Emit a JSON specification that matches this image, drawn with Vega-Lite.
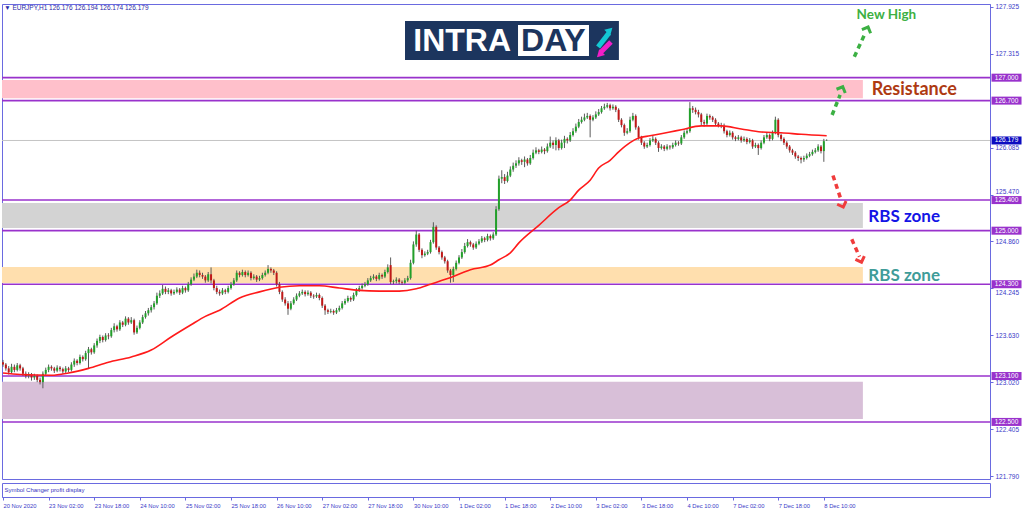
{
"$schema": "https://vega.github.io/schema/vega-lite/v6.json",
"background": "white",
"padding": {"left": -1, "top": 3, "right": 0, "bottom": 0},
"spacing": 1,
"config": {"view": {"stroke": "#6a6ae0", "strokeWidth": 1}, "font": "Liberation Sans", "scale": {"continuousPadding": 0}},
"datasets": {
"candles": [
{"i":0,"o":123.28,"h":123.31,"l":123.22,"c":123.25},{"i":1,"o":123.25,"h":123.27,"l":123.17,"c":123.2},{"i":2,"o":123.2,"h":123.23,"l":123.12,"c":123.15},{"i":3,"o":123.15,"h":123.26,"l":123.13,"c":123.22},{"i":4,"o":123.22,"h":123.25,"l":123.15,"c":123.18},{"i":5,"o":123.18,"h":123.27,"l":123.16,"c":123.24},{"i":6,"o":123.24,"h":123.26,"l":123.17,"c":123.2},{"i":7,"o":123.2,"h":123.22,"l":123.1,"c":123.13},{"i":8,"o":123.13,"h":123.16,"l":123.07,"c":123.1},{"i":9,"o":123.1,"h":123.15,"l":123.07,"c":123.12},
{"i":10,"o":123.12,"h":123.14,"l":123.04,"c":123.08},{"i":11,"o":123.08,"h":123.13,"l":123.05,"c":123.1},{"i":12,"o":123.1,"h":123.12,"l":123.02,"c":123.05},{"i":13,"o":123.05,"h":123.08,"l":122.99,"c":123.02},{"i":14,"o":123.02,"h":123.16,"l":122.94,"c":123.13},{"i":15,"o":123.13,"h":123.21,"l":123.11,"c":123.18},{"i":16,"o":123.18,"h":123.25,"l":123.15,"c":123.22},{"i":17,"o":123.22,"h":123.24,"l":123.17,"c":123.2},{"i":18,"o":123.2,"h":123.22,"l":123.14,"c":123.17},{"i":19,"o":123.17,"h":123.24,"l":123.15,"c":123.21},
{"i":20,"o":123.21,"h":123.23,"l":123.16,"c":123.19},{"i":21,"o":123.19,"h":123.21,"l":123.13,"c":123.16},{"i":22,"o":123.16,"h":123.23,"l":123.14,"c":123.2},{"i":23,"o":123.2,"h":123.22,"l":123.15,"c":123.18},{"i":24,"o":123.18,"h":123.28,"l":123.16,"c":123.25},{"i":25,"o":123.25,"h":123.33,"l":123.22,"c":123.3},{"i":26,"o":123.3,"h":123.32,"l":123.24,"c":123.27},{"i":27,"o":123.27,"h":123.38,"l":123.25,"c":123.35},{"i":28,"o":123.35,"h":123.37,"l":123.29,"c":123.32},{"i":29,"o":123.32,"h":123.43,"l":123.3,"c":123.4},
{"i":30,"o":123.4,"h":123.48,"l":123.2,"c":123.45},{"i":31,"o":123.45,"h":123.47,"l":123.38,"c":123.41},{"i":32,"o":123.41,"h":123.53,"l":123.39,"c":123.5},{"i":33,"o":123.5,"h":123.59,"l":123.47,"c":123.56},{"i":34,"o":123.56,"h":123.64,"l":123.53,"c":123.61},{"i":35,"o":123.61,"h":123.63,"l":123.54,"c":123.57},{"i":36,"o":123.57,"h":123.66,"l":123.55,"c":123.63},{"i":37,"o":123.63,"h":123.66,"l":123.58,"c":123.62},{"i":38,"o":123.62,"h":123.73,"l":123.6,"c":123.7},{"i":39,"o":123.7,"h":123.79,"l":123.67,"c":123.75},
{"i":40,"o":123.75,"h":123.77,"l":123.68,"c":123.71},{"i":41,"o":123.71,"h":123.83,"l":123.69,"c":123.8},{"i":42,"o":123.8,"h":123.82,"l":123.74,"c":123.77},{"i":43,"o":123.77,"h":123.88,"l":123.75,"c":123.85},{"i":44,"o":123.85,"h":123.87,"l":123.77,"c":123.8},{"i":45,"o":123.8,"h":123.87,"l":123.78,"c":123.83},{"i":46,"o":123.83,"h":123.85,"l":123.64,"c":123.67},{"i":47,"o":123.67,"h":123.76,"l":123.65,"c":123.73},{"i":48,"o":123.73,"h":123.83,"l":123.71,"c":123.8},{"i":49,"o":123.8,"h":123.9,"l":123.78,"c":123.87},
{"i":50,"o":123.87,"h":123.95,"l":123.85,"c":123.92},{"i":51,"o":123.92,"h":123.99,"l":123.89,"c":123.96},{"i":52,"o":123.96,"h":124.03,"l":123.93,"c":124.0},{"i":53,"o":124.0,"h":124.08,"l":123.97,"c":124.05},{"i":54,"o":124.05,"h":124.19,"l":124.03,"c":124.15},{"i":55,"o":124.15,"h":124.22,"l":124.12,"c":124.18},{"i":56,"o":124.18,"h":124.29,"l":124.16,"c":124.24},{"i":57,"o":124.24,"h":124.27,"l":124.17,"c":124.2},{"i":58,"o":124.2,"h":124.25,"l":124.17,"c":124.22},{"i":59,"o":124.22,"h":124.24,"l":124.15,"c":124.18},
{"i":60,"o":124.18,"h":124.23,"l":124.16,"c":124.2},{"i":61,"o":124.2,"h":124.26,"l":124.18,"c":124.23},{"i":62,"o":124.23,"h":124.25,"l":124.16,"c":124.19},{"i":63,"o":124.19,"h":124.28,"l":124.17,"c":124.25},{"i":64,"o":124.25,"h":124.27,"l":124.19,"c":124.22},{"i":65,"o":124.22,"h":124.33,"l":124.2,"c":124.3},{"i":66,"o":124.3,"h":124.39,"l":124.28,"c":124.36},{"i":67,"o":124.36,"h":124.44,"l":124.34,"c":124.4},{"i":68,"o":124.4,"h":124.49,"l":124.38,"c":124.45},{"i":69,"o":124.45,"h":124.48,"l":124.39,"c":124.42},
{"i":70,"o":124.42,"h":124.45,"l":124.37,"c":124.4},{"i":71,"o":124.4,"h":124.42,"l":124.32,"c":124.35},{"i":72,"o":124.35,"h":124.46,"l":124.33,"c":124.43},{"i":73,"o":124.43,"h":124.52,"l":124.31,"c":124.35},{"i":74,"o":124.35,"h":124.37,"l":124.22,"c":124.25},{"i":75,"o":124.25,"h":124.28,"l":124.17,"c":124.2},{"i":76,"o":124.2,"h":124.23,"l":124.15,"c":124.18},{"i":77,"o":124.18,"h":124.25,"l":124.16,"c":124.22},{"i":78,"o":124.22,"h":124.24,"l":124.17,"c":124.2},{"i":79,"o":124.2,"h":124.28,"l":124.18,"c":124.25},
{"i":80,"o":124.25,"h":124.33,"l":124.23,"c":124.3},{"i":81,"o":124.3,"h":124.38,"l":124.28,"c":124.35},{"i":82,"o":124.35,"h":124.48,"l":124.33,"c":124.45},{"i":83,"o":124.45,"h":124.47,"l":124.39,"c":124.42},{"i":84,"o":124.42,"h":124.49,"l":124.4,"c":124.46},{"i":85,"o":124.46,"h":124.48,"l":124.39,"c":124.42},{"i":86,"o":124.42,"h":124.48,"l":124.4,"c":124.45},{"i":87,"o":124.45,"h":124.47,"l":124.35,"c":124.38},{"i":88,"o":124.38,"h":124.43,"l":124.36,"c":124.4},{"i":89,"o":124.4,"h":124.42,"l":124.33,"c":124.36},
{"i":90,"o":124.36,"h":124.41,"l":124.34,"c":124.38},{"i":91,"o":124.38,"h":124.45,"l":124.36,"c":124.42},{"i":92,"o":124.42,"h":124.48,"l":124.4,"c":124.45},{"i":93,"o":124.45,"h":124.55,"l":124.43,"c":124.5},{"i":94,"o":124.5,"h":124.52,"l":124.45,"c":124.48},{"i":95,"o":124.48,"h":124.5,"l":124.42,"c":124.45},{"i":96,"o":124.45,"h":124.47,"l":124.27,"c":124.3},{"i":97,"o":124.3,"h":124.33,"l":124.17,"c":124.2},{"i":98,"o":124.2,"h":124.22,"l":124.07,"c":124.1},{"i":99,"o":124.1,"h":124.13,"l":124.02,"c":124.05},
{"i":100,"o":124.05,"h":124.08,"l":123.9,"c":123.98},{"i":101,"o":123.98,"h":124.08,"l":123.96,"c":124.05},{"i":102,"o":124.05,"h":124.13,"l":124.03,"c":124.1},{"i":103,"o":124.1,"h":124.18,"l":124.08,"c":124.15},{"i":104,"o":124.15,"h":124.21,"l":124.13,"c":124.18},{"i":105,"o":124.18,"h":124.23,"l":124.16,"c":124.2},{"i":106,"o":124.2,"h":124.22,"l":124.14,"c":124.17},{"i":107,"o":124.17,"h":124.22,"l":124.15,"c":124.19},{"i":108,"o":124.19,"h":124.21,"l":124.12,"c":124.15},{"i":109,"o":124.15,"h":124.17,"l":124.11,"c":124.14},
{"i":110,"o":124.14,"h":124.19,"l":124.12,"c":124.16},{"i":111,"o":124.16,"h":124.18,"l":124.09,"c":124.12},{"i":112,"o":124.12,"h":124.14,"l":123.99,"c":124.02},{"i":113,"o":124.02,"h":124.04,"l":123.9,"c":123.96},{"i":114,"o":123.96,"h":123.98,"l":123.91,"c":123.94},{"i":115,"o":123.94,"h":123.98,"l":123.92,"c":123.95},{"i":116,"o":123.95,"h":123.97,"l":123.9,"c":123.93},{"i":117,"o":123.93,"h":123.99,"l":123.91,"c":123.96},{"i":118,"o":123.96,"h":124.02,"l":123.94,"c":123.99},{"i":119,"o":123.99,"h":124.08,"l":123.97,"c":124.05},
{"i":120,"o":124.05,"h":124.11,"l":124.03,"c":124.08},{"i":121,"o":124.08,"h":124.15,"l":124.06,"c":124.12},{"i":122,"o":124.12,"h":124.14,"l":124.07,"c":124.1},{"i":123,"o":124.1,"h":124.19,"l":124.08,"c":124.16},{"i":124,"o":124.16,"h":124.25,"l":124.14,"c":124.22},{"i":125,"o":124.22,"h":124.28,"l":124.2,"c":124.25},{"i":126,"o":124.25,"h":124.31,"l":124.23,"c":124.28},{"i":127,"o":124.28,"h":124.33,"l":124.26,"c":124.3},{"i":128,"o":124.3,"h":124.38,"l":124.28,"c":124.35},{"i":129,"o":124.35,"h":124.41,"l":124.33,"c":124.38},
{"i":130,"o":124.38,"h":124.43,"l":124.36,"c":124.4},{"i":131,"o":124.4,"h":124.42,"l":124.34,"c":124.37},{"i":132,"o":124.37,"h":124.45,"l":124.35,"c":124.42},{"i":133,"o":124.42,"h":124.44,"l":124.37,"c":124.4},{"i":134,"o":124.4,"h":124.49,"l":124.38,"c":124.46},{"i":135,"o":124.46,"h":124.56,"l":124.44,"c":124.52},{"i":136,"o":124.55,"h":124.65,"l":124.3,"c":124.33},{"i":137,"o":124.33,"h":124.36,"l":124.3,"c":124.34},{"i":138,"o":124.34,"h":124.39,"l":124.31,"c":124.36},{"i":139,"o":124.36,"h":124.38,"l":124.3,"c":124.33},
{"i":140,"o":124.33,"h":124.35,"l":124.29,"c":124.32},{"i":141,"o":124.32,"h":124.38,"l":124.3,"c":124.35},{"i":142,"o":124.35,"h":124.41,"l":124.33,"c":124.38},{"i":143,"o":124.38,"h":124.62,"l":124.36,"c":124.58},{"i":144,"o":124.58,"h":124.86,"l":124.56,"c":124.82},{"i":145,"o":124.82,"h":125.0,"l":124.79,"c":124.95},{"i":146,"o":124.95,"h":124.97,"l":124.72,"c":124.75},{"i":147,"o":124.75,"h":124.77,"l":124.64,"c":124.68},{"i":148,"o":124.68,"h":124.73,"l":124.66,"c":124.7},{"i":149,"o":124.7,"h":124.75,"l":124.68,"c":124.72},
{"i":150,"o":124.72,"h":124.88,"l":124.7,"c":124.85},{"i":151,"o":124.85,"h":125.11,"l":124.83,"c":125.05},{"i":152,"o":125.05,"h":125.07,"l":124.75,"c":124.78},{"i":153,"o":124.78,"h":124.8,"l":124.69,"c":124.72},{"i":154,"o":124.72,"h":124.74,"l":124.62,"c":124.65},{"i":155,"o":124.65,"h":124.67,"l":124.57,"c":124.6},{"i":156,"o":124.6,"h":124.62,"l":124.45,"c":124.48},{"i":157,"o":124.48,"h":124.5,"l":124.32,"c":124.42},{"i":158,"o":124.42,"h":124.53,"l":124.33,"c":124.5},{"i":159,"o":124.5,"h":124.61,"l":124.48,"c":124.58},
{"i":160,"o":124.58,"h":124.68,"l":124.56,"c":124.65},{"i":161,"o":124.65,"h":124.76,"l":124.63,"c":124.72},{"i":162,"o":124.72,"h":124.84,"l":124.7,"c":124.8},{"i":163,"o":124.8,"h":124.89,"l":124.78,"c":124.85},{"i":164,"o":124.85,"h":124.87,"l":124.79,"c":124.82},{"i":165,"o":124.82,"h":124.84,"l":124.75,"c":124.78},{"i":166,"o":124.78,"h":124.86,"l":124.76,"c":124.83},{"i":167,"o":124.83,"h":124.89,"l":124.81,"c":124.86},{"i":168,"o":124.86,"h":124.93,"l":124.84,"c":124.9},{"i":169,"o":124.9,"h":124.92,"l":124.85,"c":124.88},
{"i":170,"o":124.88,"h":124.96,"l":124.86,"c":124.93},{"i":171,"o":124.93,"h":124.95,"l":124.87,"c":124.9},{"i":172,"o":124.9,"h":124.98,"l":124.88,"c":124.95},{"i":173,"o":124.95,"h":125.32,"l":124.93,"c":125.28},{"i":174,"o":125.28,"h":125.72,"l":125.26,"c":125.68},{"i":175,"o":125.68,"h":125.79,"l":125.62,"c":125.7},{"i":176,"o":125.7,"h":125.74,"l":125.61,"c":125.65},{"i":177,"o":125.65,"h":125.77,"l":125.63,"c":125.72},{"i":178,"o":125.72,"h":125.84,"l":125.7,"c":125.8},{"i":179,"o":125.8,"h":125.89,"l":125.77,"c":125.85},
{"i":180,"o":125.85,"h":125.92,"l":125.82,"c":125.88},{"i":181,"o":125.88,"h":125.96,"l":125.85,"c":125.92},{"i":182,"o":125.92,"h":125.94,"l":125.86,"c":125.9},{"i":183,"o":125.9,"h":125.97,"l":125.83,"c":125.93},{"i":184,"o":125.93,"h":125.95,"l":125.85,"c":125.88},{"i":185,"o":125.88,"h":125.99,"l":125.86,"c":125.95},{"i":186,"o":125.95,"h":126.06,"l":125.93,"c":126.02},{"i":187,"o":126.02,"h":126.09,"l":126.0,"c":126.05},{"i":188,"o":126.05,"h":126.07,"l":126.0,"c":126.03},{"i":189,"o":126.03,"h":126.1,"l":126.01,"c":126.06},
{"i":190,"o":126.06,"h":126.08,"l":126.0,"c":126.04},{"i":191,"o":126.04,"h":126.14,"l":126.02,"c":126.1},{"i":192,"o":126.1,"h":126.23,"l":126.08,"c":126.15},{"i":193,"o":126.15,"h":126.18,"l":126.07,"c":126.12},{"i":194,"o":126.12,"h":126.22,"l":126.05,"c":126.18},{"i":195,"o":126.18,"h":126.2,"l":126.05,"c":126.08},{"i":196,"o":126.08,"h":126.19,"l":126.06,"c":126.15},{"i":197,"o":126.15,"h":126.24,"l":126.08,"c":126.2},{"i":198,"o":126.2,"h":126.22,"l":126.14,"c":126.18},{"i":199,"o":126.18,"h":126.29,"l":126.16,"c":126.25},
{"i":200,"o":126.25,"h":126.34,"l":126.23,"c":126.3},{"i":201,"o":126.3,"h":126.4,"l":126.28,"c":126.36},{"i":202,"o":126.36,"h":126.46,"l":126.34,"c":126.42},{"i":203,"o":126.42,"h":126.49,"l":126.4,"c":126.45},{"i":204,"o":126.45,"h":126.53,"l":126.43,"c":126.48},{"i":205,"o":126.48,"h":126.54,"l":126.46,"c":126.5},{"i":206,"o":126.5,"h":126.52,"l":126.22,"c":126.45},{"i":207,"o":126.45,"h":126.51,"l":126.43,"c":126.48},{"i":208,"o":126.48,"h":126.56,"l":126.46,"c":126.52},{"i":209,"o":126.52,"h":126.59,"l":126.5,"c":126.55},
{"i":210,"o":126.55,"h":126.63,"l":126.53,"c":126.6},{"i":211,"o":126.6,"h":126.66,"l":126.58,"c":126.62},{"i":212,"o":126.62,"h":126.67,"l":126.6,"c":126.64},{"i":213,"o":126.64,"h":126.66,"l":126.57,"c":126.6},{"i":214,"o":126.6,"h":126.65,"l":126.58,"c":126.62},{"i":215,"o":126.62,"h":126.64,"l":126.55,"c":126.58},{"i":216,"o":126.58,"h":126.6,"l":126.42,"c":126.45},{"i":217,"o":126.45,"h":126.47,"l":126.35,"c":126.38},{"i":218,"o":126.38,"h":126.4,"l":126.24,"c":126.28},{"i":219,"o":126.28,"h":126.34,"l":126.26,"c":126.3},
{"i":220,"o":126.3,"h":126.49,"l":126.28,"c":126.45},{"i":221,"o":126.45,"h":126.54,"l":126.43,"c":126.5},{"i":222,"o":126.5,"h":126.52,"l":126.32,"c":126.35},{"i":223,"o":126.35,"h":126.37,"l":126.19,"c":126.22},{"i":224,"o":126.22,"h":126.24,"l":126.12,"c":126.15},{"i":225,"o":126.15,"h":126.17,"l":126.07,"c":126.1},{"i":226,"o":126.1,"h":126.15,"l":126.08,"c":126.12},{"i":227,"o":126.12,"h":126.21,"l":126.1,"c":126.18},{"i":228,"o":126.18,"h":126.24,"l":126.16,"c":126.2},{"i":229,"o":126.2,"h":126.22,"l":126.12,"c":126.15},
{"i":230,"o":126.15,"h":126.17,"l":126.03,"c":126.08},{"i":231,"o":126.08,"h":126.13,"l":126.06,"c":126.1},{"i":232,"o":126.1,"h":126.12,"l":126.04,"c":126.07},{"i":233,"o":126.07,"h":126.13,"l":126.05,"c":126.1},{"i":234,"o":126.1,"h":126.12,"l":126.06,"c":126.09},{"i":235,"o":126.09,"h":126.15,"l":126.07,"c":126.12},{"i":236,"o":126.12,"h":126.18,"l":126.1,"c":126.15},{"i":237,"o":126.15,"h":126.17,"l":126.11,"c":126.14},{"i":238,"o":126.14,"h":126.25,"l":126.12,"c":126.22},{"i":239,"o":126.22,"h":126.31,"l":126.2,"c":126.28},
{"i":240,"o":126.28,"h":126.34,"l":126.26,"c":126.3},{"i":241,"o":126.3,"h":126.68,"l":126.28,"c":126.6},{"i":242,"o":126.6,"h":126.63,"l":126.54,"c":126.58},{"i":243,"o":126.58,"h":126.61,"l":126.52,"c":126.55},{"i":244,"o":126.55,"h":126.58,"l":126.48,"c":126.52},{"i":245,"o":126.52,"h":126.54,"l":126.38,"c":126.42},{"i":246,"o":126.42,"h":126.45,"l":126.36,"c":126.4},{"i":247,"o":126.4,"h":126.53,"l":126.38,"c":126.5},{"i":248,"o":126.5,"h":126.52,"l":126.45,"c":126.48},{"i":249,"o":126.48,"h":126.5,"l":126.42,"c":126.45},
{"i":250,"o":126.45,"h":126.47,"l":126.37,"c":126.4},{"i":251,"o":126.4,"h":126.42,"l":126.35,"c":126.38},{"i":252,"o":126.38,"h":126.41,"l":126.34,"c":126.37},{"i":253,"o":126.37,"h":126.4,"l":126.27,"c":126.3},{"i":254,"o":126.3,"h":126.32,"l":126.22,"c":126.25},{"i":255,"o":126.25,"h":126.31,"l":126.23,"c":126.28},{"i":256,"o":126.28,"h":126.3,"l":126.19,"c":126.22},{"i":257,"o":126.22,"h":126.24,"l":126.17,"c":126.2},{"i":258,"o":126.2,"h":126.25,"l":126.18,"c":126.22},{"i":259,"o":126.22,"h":126.24,"l":126.15,"c":126.18},
{"i":260,"o":126.18,"h":126.23,"l":126.16,"c":126.2},{"i":261,"o":126.2,"h":126.22,"l":126.13,"c":126.16},{"i":262,"o":126.16,"h":126.21,"l":126.14,"c":126.18},{"i":263,"o":126.18,"h":126.2,"l":126.07,"c":126.1},{"i":264,"o":126.1,"h":126.15,"l":126.08,"c":126.12},{"i":265,"o":126.12,"h":126.14,"l":125.99,"c":126.08},{"i":266,"o":126.08,"h":126.18,"l":126.06,"c":126.15},{"i":267,"o":126.15,"h":126.25,"l":126.13,"c":126.22},{"i":268,"o":126.22,"h":126.28,"l":126.2,"c":126.25},{"i":269,"o":126.25,"h":126.27,"l":126.17,"c":126.2},
{"i":270,"o":126.2,"h":126.31,"l":126.18,"c":126.28},{"i":271,"o":126.28,"h":126.49,"l":126.26,"c":126.45},{"i":272,"o":126.45,"h":126.47,"l":126.22,"c":126.25},{"i":273,"o":126.25,"h":126.27,"l":126.17,"c":126.2},{"i":274,"o":126.2,"h":126.22,"l":126.12,"c":126.15},{"i":275,"o":126.15,"h":126.17,"l":126.07,"c":126.1},{"i":276,"o":126.1,"h":126.12,"l":126.02,"c":126.05},{"i":277,"o":126.05,"h":126.07,"l":125.99,"c":126.02},{"i":278,"o":126.02,"h":126.04,"l":125.94,"c":125.97},{"i":279,"o":125.97,"h":125.99,"l":125.91,"c":125.95},
{"i":280,"o":125.95,"h":125.97,"l":125.88,"c":125.93},{"i":281,"o":125.93,"h":125.98,"l":125.9,"c":125.95},{"i":282,"o":125.95,"h":126.01,"l":125.93,"c":125.98},{"i":283,"o":125.98,"h":126.03,"l":125.96,"c":126.0},{"i":284,"o":126.0,"h":126.06,"l":125.98,"c":126.03},{"i":285,"o":126.03,"h":126.08,"l":126.01,"c":126.05},{"i":286,"o":126.05,"h":126.13,"l":126.03,"c":126.1},{"i":287,"o":126.1,"h":126.12,"l":126.01,"c":126.04},{"i":288,"o":126.04,"h":126.2,"l":125.9,"c":126.17},{"i":289,"o":126.176,"h":126.194,"l":126.174,"c":126.179}
],
"ma": [
{"i":0,"v":123.14},{"i":6,"v":123.12},{"i":17,"v":123.11},{"i":23,"v":123.14},{"i":30,"v":123.2},{"i":37,"v":123.28},{"i":45,"v":123.35},{"i":52,"v":123.44},{"i":59,"v":123.61},{"i":66,"v":123.77},{"i":71,"v":123.88},{"i":76,"v":123.96},{"i":83,"v":124.12},{"i":90,"v":124.2},{"i":97,"v":124.26},{"i":104,"v":124.28},{"i":111,"v":124.28},{"i":118,"v":124.25},{"i":125,"v":124.22},{"i":132,"v":124.21},{"i":139,"v":124.21},{"i":145,"v":124.24},{"i":150,"v":124.3},{"i":158,"v":124.4},{"i":164,"v":124.49},{"i":171,"v":124.55},{"i":174,"v":124.62},{"i":178,"v":124.71},{"i":181,"v":124.84},{"i":188,"v":125.07},{"i":195,"v":125.3},{"i":199,"v":125.4},{"i":202,"v":125.53},{"i":206,"v":125.66},{"i":209,"v":125.82},{"i":213,"v":125.92},{"i":216,"v":126.03},{"i":220,"v":126.15},{"i":223,"v":126.21},{"i":227,"v":126.24},{"i":234,"v":126.29},{"i":238,"v":126.32},{"i":245,"v":126.37},{"i":252,"v":126.37},{"i":259,"v":126.33},{"i":266,"v":126.29},{"i":273,"v":126.28},{"i":280,"v":126.26},{"i":289,"v":126.24}
],
"levels": [
{"p":127.0,"t":"127.000"},{"p":126.7,"t":"126.700"},{"p":125.4,"t":"125.400"},{"p":125.0,"t":"125.000"},{"p":124.3,"t":"124.300"},{"p":123.1,"t":"123.100"},{"p":122.5,"t":"122.500"}
]
},
"vconcat": [
{
"width": 988, "height": 475,
"layer": [
{"data": {"values": [
 {"zone":"Resistance","x1":-0.35,"x2":301.7,"p1":126.73,"p2":126.97},
 {"zone":"RBS zone 1","x1":-0.35,"x2":301.7,"p1":125.035,"p2":125.362},
 {"zone":"RBS zone 2","x1":-0.35,"x2":301.7,"p1":124.316,"p2":124.525},
 {"zone":"Support","x1":-0.35,"x2":301.7,"p1":122.538,"p2":123.026}]},
 "mark": {"type":"rect"},
 "encoding": {
  "x": {"field":"x1","type":"quantitative","scale":{"domain":[-0.35,346.3],"nice":false,"zero":false,"padding":0},"axis":null},
  "x2": {"field":"x2"},
  "y": {"field":"p1","type":"quantitative","title":null,"scale":{"domain":[121.754,127.963],"nice":false,"zero":false,"padding":0},
   "axis":{"orient":"right","values":[127.925,127.62,127.315,126.395,126.085,125.78,125.47,125.165,124.86,124.55,124.245,123.94,123.63,123.325,123.02,122.71,122.405,122.1,121.79],"format":".3f","labelFontSize":6.5,"labelColor":"#3a3ac8","labelFont":"Liberation Sans","tickSize":3,"tickColor":"#6a6ae0","domainColor":"#6a6ae0","labelPadding":2,"grid":false,"labelFlush":false,"labelOverlap":false,"title":null,
    "labelOffset":{"condition":[{"test":"datum.value > 125.45 && datum.value < 125.5","value":-3.5},{"test":"datum.value > 124.2 && datum.value < 124.28","value":4}],"value":0}}},
  "y2": {"field":"p2"},
  "color": {"field":"zone","type":"nominal","scale":{"domain":["Resistance","RBS zone 1","RBS zone 2","Support"],"range":["#ffc0cb","#d3d3d3","#ffdfae","#d8bfd8"]},"legend":null}
 }},
{"data": {"name":"levels"},
 "mark": {"type":"rule","color":"#9932cc","strokeWidth":1.6},
 "encoding": {"y": {"field":"p","type":"quantitative","title":null}}},
{"data": {"values":[{"p":126.179}]},
 "mark": {"type":"rule","color":"#c4c4c4","strokeWidth":1},
 "encoding": {"y": {"field":"p","type":"quantitative","title":null}}},
{"data": {"name":"candles"},
 "mark": {"type":"rule","color":"#5a5a5a","strokeWidth":1},
 "encoding": {
  "x": {"field":"i","type":"quantitative","axis":null},
  "y": {"field":"l","type":"quantitative","title":null},
  "y2": {"field":"h"}}},
{"data": {"name":"candles"},
 "mark": {"type":"bar","orient":"vertical","size":2},
 "encoding": {
  "x": {"field":"i","type":"quantitative","axis":null},
  "y": {"field":"o","type":"quantitative","title":null},
  "y2": {"field":"c"},
  "color": {"condition":{"test":"datum.c >= datum.o","value":"#22a02a"},"value":"#c01818"}}},
{"data": {"name":"ma"},
 "mark": {"type":"line","color":"#ff1a1a","strokeWidth":1.6,"interpolate":"monotone"},
 "encoding": {
  "x": {"field":"i","type":"quantitative","axis":null},
  "y": {"field":"v","type":"quantitative","title":null}}},
{"data": {"values":[
  {"x1":290.9,"p1":126.512,"x2":293.7,"p2":126.774},
  {"x1":298.7,"p1":127.274,"x2":302.5,"p2":127.58}]},
 "mark": {"type":"rule","color":"#3cb043","strokeWidth":3.5,"strokeDash":[5,4]},
 "encoding": {
  "x": {"field":"x1","type":"quantitative","axis":null},"x2": {"field":"x2"},
  "y": {"field":"p1","type":"quantitative","title":null},"y2": {"field":"p2"}}},
{"data": {"values":[
  {"x1":291.2,"p1":125.721,"x2":293.9,"p2":125.42},
  {"x1":297.8,"p1":124.887,"x2":300.5,"p2":124.66}]},
 "mark": {"type":"rule","color":"#f03c3c","strokeWidth":3.5,"strokeDash":[5,4]},
 "encoding": {
  "x": {"field":"x1","type":"quantitative","axis":null},"x2": {"field":"x2"},
  "y": {"field":"p1","type":"quantitative","title":null},"y2": {"field":"p2"}}},
{"data": {"values":[{"x":294.5,"p":126.87},{"x":303.4,"p":127.65}]},
 "mark": {"type":"point","shape":"M-1,0.8L0,-0.2L1,0.8","size":90,"filled":false,"stroke":"#3cb043","strokeWidth":3,"angle":23,"opacity":1},
 "encoding": {
  "x": {"field":"x","type":"quantitative","axis":null},
  "y": {"field":"p","type":"quantitative","title":null}}},
{"data": {"values":[{"x":294.7,"p":125.32},{"x":301.1,"p":124.6}]},
 "mark": {"type":"point","shape":"M-1,0.8L0,-0.2L1,0.8","size":90,"filled":false,"stroke":"#f03c3c","strokeWidth":3,"angle":160,"opacity":1},
 "encoding": {
  "x": {"field":"x","type":"quantitative","axis":null},
  "y": {"field":"p","type":"quantitative","title":null}}},
{"data": {"values":[{"t":"New High","x":299.5,"p":127.819}]},
 "mark": {"type":"text","align":"left","baseline":"middle","font":"Lato","fontWeight":"bold","fontSize":13.5,"color":"#3cb043"},
 "encoding": {"x": {"field":"x","type":"quantitative","axis":null},"y": {"field":"p","type":"quantitative","title":null},"text": {"field":"t"}}},
{"data": {"values":[{"t":"Resistance","x":304.8,"p":126.839}]},
 "mark": {"type":"text","align":"left","baseline":"middle","font":"Lato","fontWeight":"bold","fontSize":18,"color":"#ae3a12"},
 "encoding": {"x": {"field":"x","type":"quantitative","axis":null},"y": {"field":"p","type":"quantitative","title":null},"text": {"field":"t"}}},
{"data": {"values":[{"t":"RBS zone","x":303.6,"p":125.179}]},
 "mark": {"type":"text","align":"left","baseline":"middle","font":"Lato","fontWeight":"bold","fontSize":17,"color":"#1414e6"},
 "encoding": {"x": {"field":"x","type":"quantitative","axis":null},"y": {"field":"p","type":"quantitative","title":null},"text": {"field":"t"}}},
{"data": {"values":[{"t":"RBS zone","x":303.6,"p":124.401}]},
 "mark": {"type":"text","align":"left","baseline":"middle","font":"Lato","fontWeight":"bold","fontSize":17,"color":"#3f9c99"},
 "encoding": {"x": {"field":"x","type":"quantitative","axis":null},"y": {"field":"p","type":"quantitative","title":null},"text": {"field":"t"}}},
{"data": {"values":[{"x1":141.05,"x2":216.1,"p1":127.231,"p2":127.741}]},
 "mark": {"type":"rect","color":"#1c355e"},
 "encoding": {"x": {"field":"x1","type":"quantitative","axis":null},"x2": {"field":"x2"},"y": {"field":"p1","type":"quantitative","title":null},"y2": {"field":"p2"}}},
{"data": {"values":[{"x1":180.7,"x2":205.6,"p1":127.283,"p2":127.688}]},
 "mark": {"type":"rect","color":"#ffffff"},
 "encoding": {"x": {"field":"x1","type":"quantitative","axis":null},"x2": {"field":"x2"},"y": {"field":"p1","type":"quantitative","title":null},"y2": {"field":"p2"}}},
{"data": {"values":[{"t":"INTRA","x":161.1,"p":127.49}]},
 "mark": {"type":"text","align":"center","baseline":"middle","font":"Liberation Sans","fontWeight":"bold","fontSize":32,"color":"#ffffff","dy":1},
 "encoding": {"x": {"field":"x","type":"quantitative","axis":null},"y": {"field":"p","type":"quantitative","title":null},"text": {"field":"t"}}},
{"data": {"values":[{"t":"DAY","x":193.1,"p":127.49}]},
 "mark": {"type":"text","align":"center","baseline":"middle","font":"Liberation Sans","fontWeight":"bold","fontSize":32,"color":"#1c355e","dy":1},
 "encoding": {"x": {"field":"x","type":"quantitative","axis":null},"y": {"field":"p","type":"quantitative","title":null},"text": {"field":"t"}}},
{"data": {"values":[{"x1":208.8,"p1":127.401,"x2":212.6,"p2":127.584}]},
 "mark": {"type":"rule","color":"#14c8d4","strokeWidth":5},
 "encoding": {"x": {"field":"x1","type":"quantitative","axis":null},"x2": {"field":"x2"},"y": {"field":"p1","type":"quantitative","title":null},"y2": {"field":"p2"}}},
{"data": {"values":[{"x":212.9,"p":127.62}]},
 "mark": {"type":"point","shape":"triangle-up","size":70,"filled":true,"color":"#14c8d4","angle":45,"opacity":1},
 "encoding": {"x": {"field":"x","type":"quantitative","axis":null},"y": {"field":"p","type":"quantitative","title":null}}},
{"data": {"values":[{"x1":213.3,"p1":127.466,"x2":209.8,"p2":127.336}]},
 "mark": {"type":"rule","color":"#f01ec8","strokeWidth":5},
 "encoding": {"x": {"field":"x1","type":"quantitative","axis":null},"x2": {"field":"x2"},"y": {"field":"p1","type":"quantitative","title":null},"y2": {"field":"p2"}}},
{"data": {"values":[{"x":209.3,"p":127.3}]},
 "mark": {"type":"point","shape":"triangle-up","size":70,"filled":true,"color":"#f01ec8","angle":225,"opacity":1},
 "encoding": {"x": {"field":"x","type":"quantitative","axis":null},"y": {"field":"p","type":"quantitative","title":null}}},
{"data": {"name":"levels"},
 "mark": {"type":"point","shape":"M-3,-0.8H3V0.8H-3Z","size":100,"filled":true,"color":"#9932cc","opacity":1,"clip":false},
 "encoding": {"x": {"datum":352.1,"type":"quantitative","axis":null},"y": {"field":"p","type":"quantitative","title":null}}},
{"data": {"name":"levels"},
 "mark": {"type":"text","align":"center","baseline":"middle","fontSize":6.5,"font":"Liberation Sans","color":"#ffffff","clip":false},
 "encoding": {"x": {"datum":352.1,"type":"quantitative","axis":null},"y": {"field":"p","type":"quantitative","title":null},"text": {"field":"t"}}},
{"data": {"values":[{"p":126.179,"t":"126.179"}]},
 "mark": {"type":"point","shape":"M-3,-0.8H3V0.8H-3Z","size":100,"filled":true,"color":"#0c0cc0","opacity":1,"clip":false},
 "encoding": {"x": {"datum":352.1,"type":"quantitative","axis":null},"y": {"field":"p","type":"quantitative","title":null}}},
{"data": {"values":[{"p":126.179,"t":"126.179"}]},
 "mark": {"type":"text","align":"center","baseline":"middle","fontSize":6.5,"font":"Liberation Sans","color":"#ffffff","clip":false},
 "encoding": {"x": {"datum":352.1,"type":"quantitative","axis":null},"y": {"field":"p","type":"quantitative","title":null},"text": {"field":"t"}}},
{"data": {"values":[{"t":"▼ EURJPY,H1  126.176 126.194 126.174 126.179","x":0.4,"p":127.915}]},
 "mark": {"type":"text","align":"left","baseline":"middle","fontSize":6.5,"font":"Liberation Sans","color":"#2a2aa8"},
 "encoding": {"x": {"field":"x","type":"quantitative","axis":null},"y": {"field":"p","type":"quantitative","title":null},"text": {"field":"t"}}}
]
},
{
"width": 988, "height": 14,
"data": {"values": [{"t":"Symbol Changer profit display","x":0.5,"y":0.5}]},
"mark": {"type":"text","align":"left","baseline":"middle","fontSize":6,"font":"Liberation Sans","color":"#3434c0"},
"encoding": {
 "x": {"field":"x","type":"quantitative","scale":{"domain":[-0.35,346.3],"nice":false,"zero":false,"padding":0},
  "axis":{"orient":"bottom","values":[0,16,32,48,64,80,96,112,128,144,160,176,192,208,224,240,256,272,288],
   "labelExpr":"['20 Nov 2020','23 Nov 02:00','23 Nov 18:00','24 Nov 10:00','25 Nov 02:00','25 Nov 18:00','26 Nov 10:00','27 Nov 02:00','27 Nov 18:00','30 Nov 10:00','1 Dec 02:00','1 Dec 18:00','2 Dec 10:00','3 Dec 02:00','3 Dec 18:00','4 Dec 10:00','7 Dec 02:00','7 Dec 18:00','8 Dec 10:00'][round(datum.value/16)]",
   "labelAlign":"left","labelFontSize":5.8,"labelFont":"Liberation Sans","labelColor":"#3a3ac8","tickSize":3,"tickColor":"#6a6ae0","domainColor":"#6a6ae0","labelPadding":2,"labelOverlap":false,"labelFlush":false,"labelBound":false,"grid":false,"title":null}},
 "y": {"field":"y","type":"quantitative","scale":{"domain":[0,1]},"axis":null},
 "text": {"field":"t"}
}
}
]
}
